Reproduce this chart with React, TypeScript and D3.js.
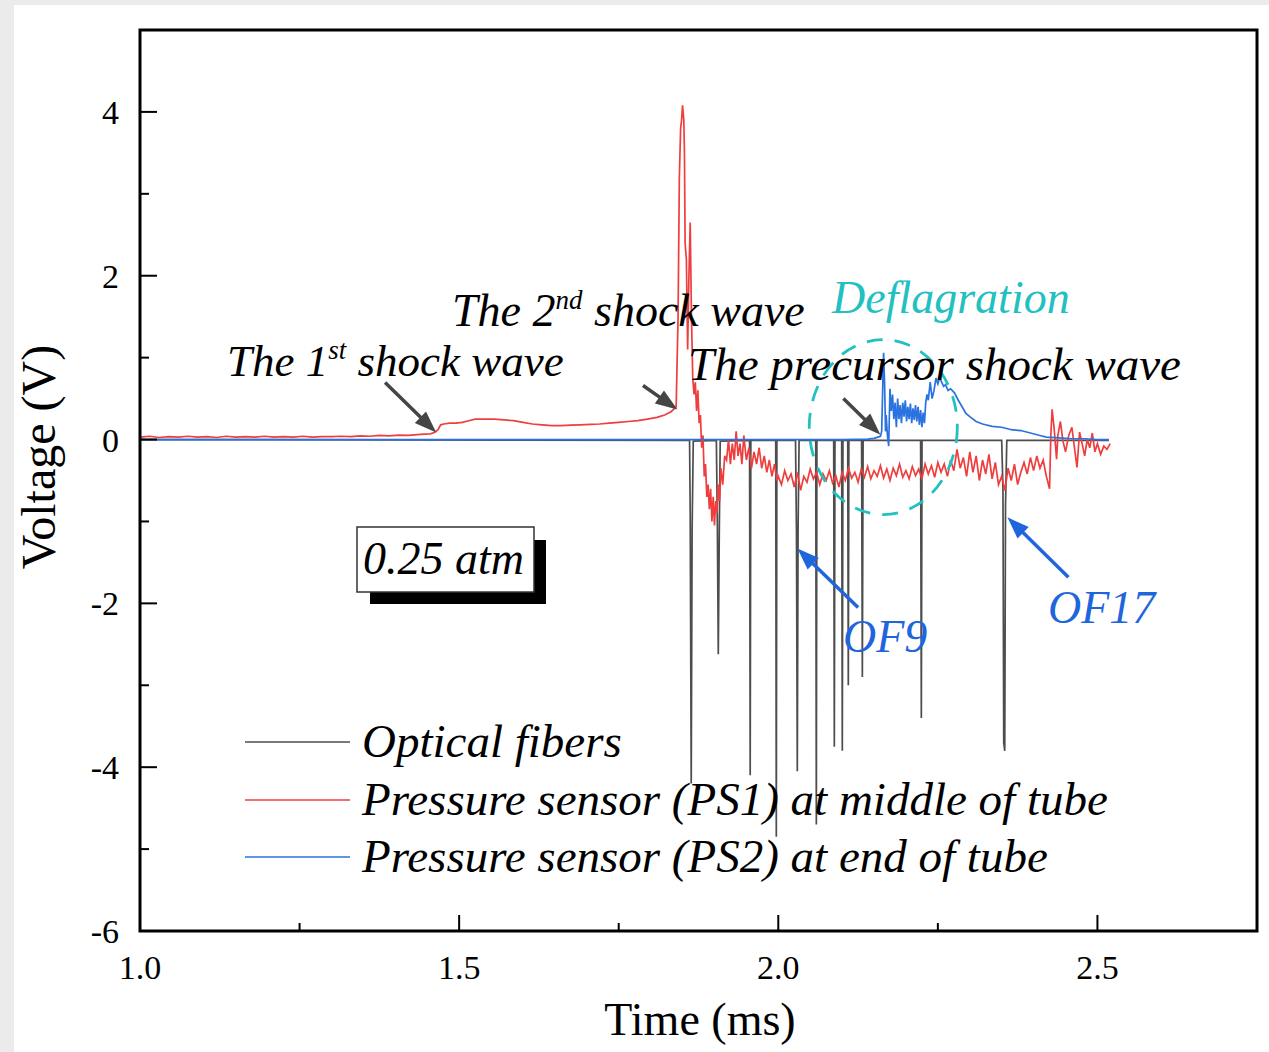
import React from "react";
import * as d3 from "d3";

// ---------------- data ----------------
const xMajorTicks = [1.0, 1.5, 2.0, 2.5];
const xMinorTicks = [1.25, 1.75, 2.25];
const yMajorTicks = [-6, -4, -2, 0, 2, 4];
const yMinorTicks = [-5, -3, -1, 1, 3];

// Optical fibers (time ms, voltage V)
const opticalFibers: [number, number][] = [
  [1.0, 0.0], [1.861, -0.01],
  [1.862, -0.9], [1.8636, -4.2], [1.865, -1.1], [1.8668, -0.02],
  [1.903, -0.01], [1.9045, -1.0], [1.906, -2.62], [1.9075, -1.2], [1.909, -0.02],
  [1.955, -0.01], [1.956, -4.1], [1.957, -0.01],
  [1.996, -0.01], [1.9969, -4.85], [1.9978, -0.01],
  [2.027, -0.01], [2.0285, -1.15], [2.0298, -4.05], [2.031, -1.1], [2.0326, -0.01],
  [2.0587, -0.01], [2.0596, -4.7], [2.0605, -0.01],
  [2.0868, -0.01], [2.0878, -3.75], [2.0888, -0.01],
  [2.0993, -0.01], [2.1003, -3.8], [2.1013, -0.01],
  [2.1088, -0.01], [2.1097, -3.0], [2.1106, -0.01],
  [2.1305, -0.01], [2.1317, -2.9], [2.1329, -0.01],
  [2.223, -0.01], [2.2241, -3.4], [2.2252, -0.01],
  [2.35, -0.01], [2.352, -0.6], [2.3532, -3.7], [2.3548, -3.8], [2.356, -0.8], [2.358, -0.01],
  [2.518, -0.01],
];

// Pressure sensor PS1 (middle of tube)
const ps1: [number, number][] = [
  [1.0, 0.03], [1.015, 0.04], [1.03, 0.025], [1.045, 0.035], [1.06, 0.03], [1.075, 0.04],
  [1.09, 0.03], [1.105, 0.035], [1.12, 0.025], [1.135, 0.04], [1.15, 0.03], [1.165, 0.035],
  [1.18, 0.03], [1.195, 0.04], [1.21, 0.03], [1.225, 0.035], [1.24, 0.03], [1.255, 0.04],
  [1.27, 0.03], [1.285, 0.035], [1.3, 0.035], [1.315, 0.04], [1.33, 0.035], [1.345, 0.045],
  [1.36, 0.04], [1.375, 0.05], [1.39, 0.045], [1.405, 0.055], [1.42, 0.05], [1.435, 0.06],
  [1.445, 0.065], [1.455, 0.07], [1.462, 0.09], [1.467, 0.12], [1.471, 0.18], [1.476, 0.19],
  [1.485, 0.2], [1.495, 0.2], [1.505, 0.21], [1.515, 0.23], [1.525, 0.25], [1.54, 0.25],
  [1.555, 0.25], [1.57, 0.24], [1.585, 0.23], [1.6, 0.21], [1.615, 0.19], [1.63, 0.18],
  [1.645, 0.17], [1.66, 0.17], [1.675, 0.175], [1.69, 0.18], [1.705, 0.185], [1.72, 0.19],
  [1.735, 0.2], [1.75, 0.21], [1.765, 0.22], [1.78, 0.23], [1.795, 0.25], [1.81, 0.27],
  [1.822, 0.3], [1.832, 0.34], [1.84, 0.4],
  [1.843, 1.5], [1.845, 3.2], [1.847, 3.8], [1.8485, 3.9], [1.85, 4.08], [1.852, 3.9],
  [1.853, 3.5], [1.854, 2.4], [1.856, 2.2], [1.858, 1.1], [1.86, 2.0], [1.862, 2.65],
  [1.864, 1.5], [1.866, 0.75], [1.868, 0.55], [1.87, 0.7], [1.872, 0.35], [1.874, 0.6],
  [1.876, 0.2], [1.878, 0.3], [1.88, -0.1], [1.882, 0.05], [1.884, -0.45], [1.886, -0.3],
  [1.888, -0.7], [1.89, -0.55], [1.892, -0.85], [1.894, -0.6], [1.896, -1.0], [1.898, -0.7],
  [1.9, -1.05], [1.902, -0.75], [1.904, -0.9], [1.906, -0.55], [1.908, -0.75], [1.91, -0.35],
  [1.913, -0.55], [1.916, -0.2], [1.919, -0.25], [1.922, 0.0], [1.925, -0.3], [1.928, -0.05],
  [1.931, -0.25], [1.934, 0.1], [1.937, -0.2], [1.94, -0.05], [1.943, -0.3], [1.946, 0.05],
  [1.95, -0.25], [1.954, -0.1], [1.958, -0.35], [1.962, -0.15], [1.966, -0.3], [1.97, -0.1],
  [1.974, -0.35], [1.978, -0.2], [1.982, -0.4], [1.986, -0.25], [1.99, -0.45], [1.994, -0.3],
  [1.998, -0.5],
  [2.0, -0.45], [2.005, -0.55], [2.01, -0.38], [2.015, -0.5], [2.02, -0.42], [2.025, -0.58],
  [2.03, -0.4], [2.035, -0.62], [2.04, -0.45], [2.045, -0.52], [2.05, -0.36], [2.055, -0.48],
  [2.06, -0.4], [2.065, -0.55], [2.07, -0.42], [2.075, -0.5], [2.08, -0.38], [2.085, -0.53],
  [2.09, -0.44], [2.095, -0.58], [2.1, -0.4], [2.105, -0.5], [2.11, -0.35], [2.115, -0.47],
  [2.12, -0.4], [2.125, -0.52], [2.13, -0.36], [2.135, -0.46], [2.14, -0.33], [2.145, -0.48],
  [2.15, -0.38], [2.155, -0.45], [2.16, -0.32], [2.165, -0.47], [2.17, -0.36], [2.175, -0.5],
  [2.18, -0.35], [2.185, -0.44], [2.19, -0.3], [2.195, -0.46], [2.2, -0.38], [2.205, -0.48],
  [2.21, -0.33], [2.215, -0.44], [2.22, -0.36], [2.225, -0.48], [2.23, -0.3], [2.235, -0.42],
  [2.24, -0.32], [2.245, -0.46], [2.25, -0.28], [2.255, -0.4], [2.26, -0.3], [2.265, -0.45],
  [2.27, -0.25], [2.275, -0.38], [2.28, -0.12], [2.285, -0.35], [2.29, -0.22], [2.295, -0.45],
  [2.3, -0.15], [2.305, -0.4], [2.31, -0.2], [2.315, -0.5], [2.32, -0.25], [2.325, -0.42],
  [2.33, -0.18], [2.335, -0.48], [2.34, -0.28], [2.345, -0.55], [2.35, -0.45], [2.355, -0.62],
  [2.36, -0.35], [2.365, -0.5], [2.37, -0.3], [2.375, -0.55], [2.38, -0.4], [2.385, -0.28],
  [2.39, -0.42], [2.395, -0.22], [2.4, -0.38], [2.405, -0.2], [2.41, -0.35], [2.415, -0.25],
  [2.42, -0.45], [2.425, -0.6], [2.427, 0.05], [2.429, 0.37], [2.432, 0.15], [2.436, -0.24],
  [2.438, 0.05], [2.442, 0.22], [2.446, -0.02], [2.45, -0.15], [2.455, 0.05], [2.46, 0.15],
  [2.464, -0.1], [2.468, -0.34], [2.472, 0.09], [2.476, -0.05], [2.48, -0.2], [2.484, 0.0],
  [2.488, -0.1], [2.492, 0.08], [2.496, -0.15], [2.5, -0.05], [2.505, -0.18], [2.51, -0.08],
  [2.515, -0.12], [2.52, -0.05],
];

// Pressure sensor PS2 (end of tube)
const ps2: [number, number][] = [
  [1.0, 0.0], [1.3, 0.0], [1.6, 0.0], [1.9, 0.0], [2.1, 0.0], [2.14, 0.005], [2.15, 0.015],
  [2.156, 0.03], [2.16, 0.04], [2.162, 0.1], [2.1635, 0.6], [2.165, 1.06], [2.1665, 0.7],
  [2.168, 0.1], [2.169, 0.3], [2.171, 0.05], [2.173, -0.08], [2.175, 0.62], [2.177, 0.35],
  [2.179, 0.55], [2.181, 0.25], [2.183, 0.45], [2.185, 0.15], [2.187, 0.5], [2.189, 0.25],
  [2.191, 0.42], [2.193, 0.2], [2.195, 0.45], [2.197, 0.28], [2.199, 0.48], [2.201, 0.22],
  [2.203, 0.4], [2.205, 0.25], [2.207, 0.44], [2.209, 0.2], [2.211, 0.38], [2.213, 0.24],
  [2.215, 0.42], [2.217, 0.22], [2.219, 0.4], [2.221, 0.18], [2.223, 0.36], [2.225, 0.15],
  [2.227, 0.33], [2.229, 0.2], [2.231, 0.45], [2.233, 0.55], [2.235, 0.48], [2.238, 0.7],
  [2.241, 0.5], [2.244, 0.6], [2.247, 0.75], [2.25, 0.68], [2.253, 0.76], [2.256, 0.7],
  [2.259, 0.65], [2.262, 0.67], [2.266, 0.6], [2.27, 0.62], [2.276, 0.57], [2.282, 0.48],
  [2.288, 0.4], [2.294, 0.32], [2.3, 0.28], [2.31, 0.22], [2.32, 0.19], [2.335, 0.16],
  [2.35, 0.15], [2.365, 0.12], [2.38, 0.11], [2.395, 0.08], [2.41, 0.05], [2.42, 0.03],
  [2.44, 0.02], [2.46, 0.01], [2.48, 0.01], [2.5, 0.0], [2.518, 0.0],
];

const legendLabels = [
  "Optical fibers",
  "Pressure sensor (PS1) at middle of tube",
  "Pressure sensor (PS2) at end of tube",
];

// annotation arrows: [tailT, tailV, tipT, tipV]
const grayArrows: [number, number, number, number][] = [
  [1.384, 0.695, 1.464, 0.085],
  [1.788, 0.66, 1.842, 0.366],
  [2.102, 0.5, 2.16, 0.06],
];
const blueArrows: [number, number, number, number][] = [
  [2.125, -2.05, 2.03, -1.33],
  [2.4545, -1.68, 2.359, -0.95],
];

// ---------------- layout ----------------
const W = 1269;
const H = 1052;
const L = 140, T = 30, R = 1257, B = 931;

const COL_BLACK = "#4d4d4d";
const COL_RED = "#ef3e3e";
const COL_BLUE = "#2a72e0";
const COL_CYAN = "#22c0c0";
const FONT = "'Liberation Serif', 'Times New Roman', serif";

function Arrow({ x1, y1, x2, y2, color, width, head, hw }: any) {
  const dx = x2 - x1, dy = y2 - y1;
  const len = Math.sqrt(dx * dx + dy * dy);
  const ux = dx / len, uy = dy / len;
  const bx = x2 - ux * head, by = y2 - uy * head;
  const px = -uy, py = ux;
  const pts = `${x2},${y2} ${bx + px * hw},${by + py * hw} ${bx - px * hw},${by - py * hw}`;
  return (
    <g>
      <line x1={x1} y1={y1} x2={bx + ux * 2} y2={by + uy * 2} stroke={color} strokeWidth={width} />
      <polygon points={pts} fill={color} />
    </g>
  );
}

export default function App() {
  const x = d3.scaleLinear().domain([1, 2.75]).range([L, R]);
  const y = d3.scaleLinear().domain([-6, 5]).range([B, T]);
  const line = d3
    .line<[number, number]>()
    .x((d) => x(d[0]))
    .y((d) => y(d[1]));

  const series = [
    { data: opticalFibers, color: COL_BLACK, w: 1.7 },
    { data: ps1, color: COL_RED, w: 1.7 },
    { data: ps2, color: COL_BLUE, w: 1.7 },
  ];
  const legendY = [742, 800, 857];

  // deflagration ellipse in data units
  const ecT = 2.1645, ecV = 0.152, erT = 0.116, erV = 1.068;

  return (
    <svg
      width={W}
      height={H}
      style={{ position: "absolute", left: 0, top: 0, fontFamily: FONT }}
    >
      <rect x={0} y={0} width={W} height={H} fill="#ebebeb" />
      <rect x={14} y={5} width={W - 14} height={H - 5} fill="#ffffff" />
      <defs>
        <clipPath id="plotclip">
          <rect x={L} y={T} width={R - L} height={B - T} />
        </clipPath>
      </defs>

      {/* data */}
      <g clipPath="url(#plotclip)">
        {series.map((s, i) => (
          <path
            key={i}
            d={line(s.data) || ""}
            fill="none"
            stroke={s.color}
            strokeWidth={s.w}
            strokeLinejoin="miter"
          />
        ))}
      </g>

      {/* frame */}
      <rect x={L} y={T} width={R - L} height={B - T} fill="none" stroke="#000" strokeWidth={3} />

      {/* ticks */}
      {xMajorTicks.map((t) => (
        <g key={"xm" + t}>
          <line x1={x(t)} x2={x(t)} y1={B} y2={B - 16} stroke="#000" strokeWidth={2} />
          <text x={x(t)} y={B + 48} textAnchor="middle" fontSize={34}>
            {d3.format(".1f")(t)}
          </text>
        </g>
      ))}
      {xMinorTicks.map((t) => (
        <line key={"xn" + t} x1={x(t)} x2={x(t)} y1={B} y2={B - 8} stroke="#000" strokeWidth={2} />
      ))}
      {yMajorTicks.map((v) => (
        <g key={"ym" + v}>
          <line x1={L} x2={L + 17} y1={y(v)} y2={y(v)} stroke="#000" strokeWidth={2} />
          <text x={119} y={y(v) + 12} textAnchor="end" fontSize={34}>
            {v}
          </text>
        </g>
      ))}
      {yMinorTicks.map((v) => (
        <line key={"yn" + v} x1={L} x2={L + 9} y1={y(v)} y2={y(v)} stroke="#000" strokeWidth={2} />
      ))}

      {/* axis titles */}
      <text x={700} y={1035} textAnchor="middle" fontSize={46}>
        Time (ms)
      </text>
      <text transform="translate(55,457) rotate(-90)" textAnchor="middle" fontSize={48}>
        Voltage (V)
      </text>

      {/* legend */}
      {series.map((s, i) => (
        <g key={"lg" + i}>
          <line x1={245} x2={350} y1={legendY[i]} y2={legendY[i]} stroke={s.color} strokeWidth={1.6} />
          <text x={362} y={legendY[i] + 15} fontSize={47} fontStyle="italic">
            {legendLabels[i]}
          </text>
        </g>
      ))}

      {/* pressure box */}
      <rect x={370} y={540} width={176} height={64} fill="#000" />
      <rect x={357} y={527} width={177} height={65} fill="#fff" stroke="#333" strokeWidth={1.5} />
      <text x={363} y={574} fontSize={46} fontStyle="italic">
        0.25 atm
      </text>

      {/* deflagration ellipse */}
      <ellipse
        cx={x(ecT)}
        cy={y(ecV)}
        rx={x(ecT + erT) - x(ecT)}
        ry={y(ecV) - y(ecV + erV)}
        fill="none"
        stroke={COL_CYAN}
        strokeWidth={2.8}
        strokeDasharray="16 12"
      />

      {/* arrows */}
      {grayArrows.map((a, i) => (
        <Arrow key={"ga" + i} x1={x(a[0])} y1={y(a[1])} x2={x(a[2])} y2={y(a[3])} color="#454545" width={3.5} head={22} hw={8} />
      ))}
      {blueArrows.map((a, i) => (
        <Arrow key={"ba" + i} x1={x(a[0])} y1={y(a[1])} x2={x(a[2])} y2={y(a[3])} color="#1f66dd" width={3.5} head={22} hw={8} />
      ))}

      {/* annotation text */}
      <text x={227} y={376} fontSize={45} fontStyle="italic">
        The 1<tspan dy={-17} fontSize={27}>st</tspan>
        <tspan dy={17}> shock wave</tspan>
      </text>
      <text x={452} y={326} fontSize={46} fontStyle="italic">
        The 2<tspan dy={-17} fontSize={27}>nd</tspan>
        <tspan dy={17}> shock wave</tspan>
      </text>
      <text x={688} y={380} fontSize={47} fontStyle="italic">
        The precursor shock wave
      </text>
      <text x={832} y={313} fontSize={46} fontStyle="italic" fill={COL_CYAN}>
        Deflagration
      </text>
      <text x={843} y={652} fontSize={46} fontStyle="italic" fill="#1f66dd">
        OF9
      </text>
      <text x={1048} y={623} fontSize={46} fontStyle="italic" fill="#1f66dd">
        OF17
      </text>
    </svg>
  );
}
